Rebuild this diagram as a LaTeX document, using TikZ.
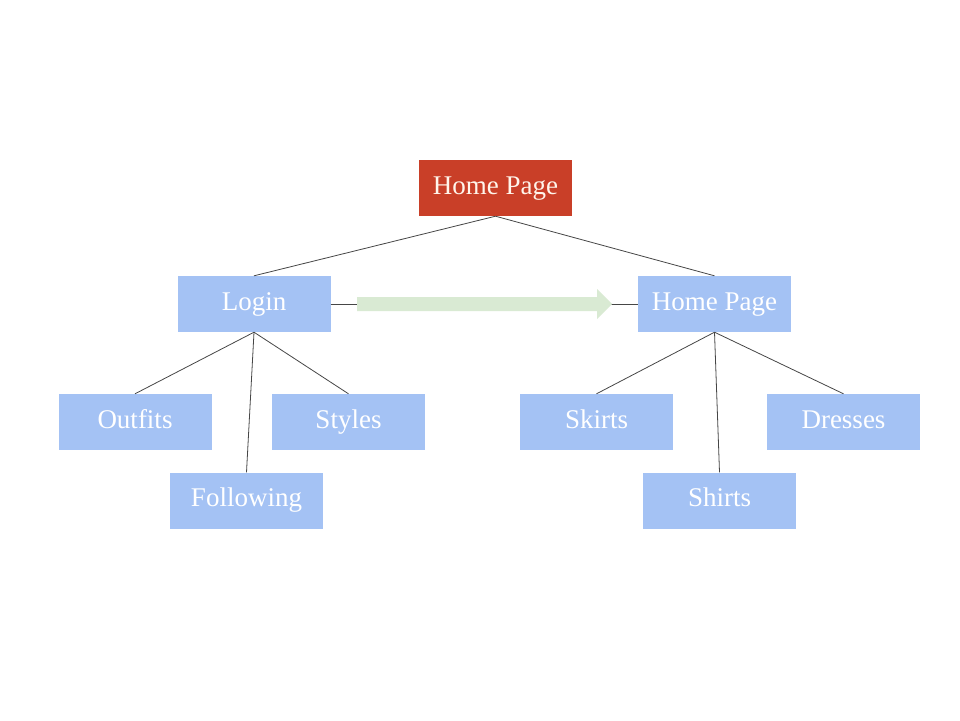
\documentclass[tikz,border=0pt]{standalone}
\usepackage{fontspec}
\setmainfont{Liberation Serif}
\definecolor{boxblue}{RGB}{164,194,244}
\definecolor{boxred}{RGB}{201,63,40}
\definecolor{arrgreen}{RGB}{217,234,211}
\definecolor{linegray}{RGB}{70,70,70}
\begin{document}
\begin{tikzpicture}[x=1pt,y=-1pt,
  box/.style={fill=boxblue,draw=none,minimum width=153pt,minimum height=56pt,inner sep=0pt,text=white,
    font=\fontsize{27}{32}\selectfont,text height=19pt,text depth=7pt},
  topbox/.style={box,fill=boxred,text={rgb,255:red,255;green,245;blue,235}},
  conn/.style={draw=linegray,line width=0.8pt}]
\useasboundingbox[fill=white] (0,0) rectangle (960,720);
\node[topbox] (root) at (495.5,188) {Home Page};
\node[box] (login) at (254,304) {Login};
\node[box] (home) at (714.5,304) {Home Page};
\node[box] (outfits) at (135,422) {Outfits};
\node[box] (styles) at (348.5,422) {Styles};
\node[box] (following) at (246.5,500.5) {Following};
\node[box] (skirts) at (596.5,422) {Skirts};
\node[box] (dresses) at (843.5,422) {Dresses};
\node[box] (shirts) at (719.5,500.5) {Shirts};
\draw[conn] (root.south) -- (login.north);
\draw[conn] (root.south) -- (home.north);
\draw[conn] (login.south) -- (outfits.north);
\draw[conn] (login.south) -- (following.north);
\draw[conn] (login.south) -- (styles.north);
\draw[conn] (home.south) -- (skirts.north);
\draw[conn] (home.south) -- (shirts.north);
\draw[conn] (home.south) -- (dresses.north);
\draw[conn] (login.east) -- (home.west);
\fill[arrgreen] (357,297) -- (597,297) -- (597,289) -- (612,304) -- (597,319) -- (597,311) -- (357,311) -- cycle;
\end{tikzpicture}
\end{document}
